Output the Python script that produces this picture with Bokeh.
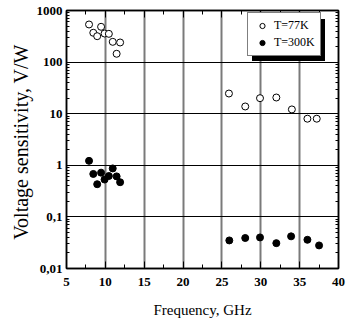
from bokeh.plotting import figure
from bokeh.models import (Range1d, FixedTicker, LinearAxis, LogAxis, Legend, LegendItem,
                          BoxAnnotation)
from bokeh.embed import file_html
from bokeh.resources import INLINE

# ---- data ----
freq_77 = [7.9, 8.45, 8.95, 9.45, 9.9, 10.45, 10.95, 11.45, 11.9,
           25.9, 28.0, 29.9, 32.0, 34.0, 36.0, 37.2]
sens_77 = [536, 370, 318, 483, 358, 353, 247, 145, 240,
           24.6, 13.8, 20.0, 20.6, 12.1, 8.0, 8.0]
freq_300 = [7.9, 8.45, 8.95, 9.45, 9.9, 10.45, 10.95, 11.45, 11.9,
            25.95, 28.0, 29.9, 32.0, 33.9, 36.0, 37.5]
sens_300 = [1.22, 0.68, 0.43, 0.72, 0.53, 0.62, 0.87, 0.61, 0.47,
            0.035, 0.039, 0.040, 0.031, 0.042, 0.036, 0.028]
series_labels = ["T=77K", "T=300K"]

x_ticks = [5, 10, 15, 20, 25, 30, 35, 40]
x_minor = [7.5, 12.5, 17.5, 22.5, 27.5, 32.5, 37.5]
y_ticks = [0.01, 0.1, 1, 10, 100, 1000]
y_tick_labels = ["0,01", "0,1", "1", "10", "100", "1000"]
y_minor = [m * 10.0 ** k for k in range(-2, 3) for m in range(2, 10)]
x_grid = [10, 15, 20, 25, 30, 35]
y_grid = [0.1, 1, 10, 100]

FONT = "Liberation Serif"

# layout of the plot frame (pixels)
FRAME_L, FRAME_T, FRAME_W, FRAME_H = 66, 10, 272, 258
X0, X1, YEXP0, YEXP1 = 5, 40, -2, 3


def px_to_x(px):
    return X0 + (px - FRAME_L) / FRAME_W * (X1 - X0)


def py_to_y(py):
    return 10 ** (YEXP1 - (py - FRAME_T) / FRAME_H * (YEXP1 - YEXP0))


p = figure(width=349, height=326, output_backend="svg", toolbar_location=None,
           x_range=Range1d(X0, X1), y_range=Range1d(10 ** YEXP0, 10 ** YEXP1),
           y_axis_type="log",
           min_border_left=FRAME_L, min_border_right=349 - FRAME_L - FRAME_W,
           min_border_top=FRAME_T, min_border_bottom=326 - FRAME_T - FRAME_H)
p.background_fill_color = "white"
p.border_fill_color = "white"
p.outline_line_color = "black"
p.outline_line_width = 1.5

# grids
p.xgrid.ticker = FixedTicker(ticks=x_grid)
p.xgrid.grid_line_color = "#7a7a7a"
p.xgrid.grid_line_width = 2
p.ygrid.ticker = FixedTicker(ticks=y_grid)
p.ygrid.grid_line_color = "black"
p.ygrid.grid_line_width = 1.2

# bottom axis
xa = p.xaxis[0]
xa.ticker = FixedTicker(ticks=x_ticks, minor_ticks=x_minor)
xa.major_tick_in = 7
xa.major_tick_out = 0
xa.minor_tick_in = 4
xa.minor_tick_out = 0
xa.axis_line_width = 1.5
xa.major_label_standoff = 9
xa.major_label_text_font = FONT
xa.major_label_text_font_style = "bold"
xa.major_label_text_font_size = "13px"
xa.major_label_text_color = "black"
xa.axis_label = "Frequency, GHz"
xa.axis_label_text_font = FONT
xa.axis_label_text_font_style = "normal"
xa.axis_label_text_font_size = "15px"
xa.axis_label_standoff = 13
xa.axis_label_text_color = "black"

# left axis
ya = p.yaxis[0]
ya.ticker = FixedTicker(ticks=y_ticks, minor_ticks=y_minor)
ya.major_label_overrides = {t: s for t, s in zip(y_ticks, y_tick_labels)}
ya.major_tick_in = 7
ya.major_tick_out = 0
ya.minor_tick_in = 3
ya.minor_tick_out = 0
ya.axis_line_width = 1.5
ya.major_label_standoff = 4
ya.major_label_text_font = FONT
ya.major_label_text_font_style = "bold"
ya.major_label_text_font_size = "13px"
ya.major_label_text_color = "black"
ya.axis_label = "Voltage sensitivity,  V/W"
ya.axis_label_text_font = FONT
ya.axis_label_text_font_style = "normal"
ya.axis_label_text_font_size = "20px"
ya.axis_label_standoff = 2
ya.axis_label_text_color = "black"

# top and right axes (ticks only)
top = LinearAxis(ticker=FixedTicker(ticks=x_ticks, minor_ticks=x_minor),
                 major_tick_in=7, major_tick_out=0, minor_tick_in=4, minor_tick_out=0,
                 major_label_overrides={t: "" for t in x_ticks},
                 major_label_standoff=0, axis_line_width=1.5)
p.add_layout(top, "above")
right = LogAxis(ticker=FixedTicker(ticks=y_ticks, minor_ticks=y_minor),
                major_tick_in=7, major_tick_out=0, minor_tick_in=3, minor_tick_out=0,
                major_label_overrides={t: "" for t in y_ticks},
                major_label_standoff=0, axis_line_width=1.5)
p.add_layout(right, "right")

# data
r77 = p.scatter(freq_77, sens_77, marker="circle", size=7, fill_color="white",
                line_color="black", line_width=1)
r300 = p.scatter(freq_300, sens_300, marker="circle", size=7, fill_color="black",
                 line_color="black", line_width=1)

# legend box geometry (canvas pixels) and its drop shadow
LEG_L, LEG_B, SHADOW = 247, 56, 4.5
LEG_W, LEG_H = 73, 42
shadow = BoxAnnotation(left=px_to_x(LEG_L + SHADOW), right=px_to_x(LEG_L + LEG_W + SHADOW),
                       top=py_to_y(LEG_B - LEG_H + SHADOW), bottom=py_to_y(LEG_B + SHADOW),
                       fill_color="black", fill_alpha=1, line_alpha=0)
p.add_layout(shadow)

legend = Legend(items=[LegendItem(label=series_labels[0], renderers=[r77]),
                       LegendItem(label=series_labels[1], renderers=[r300])],
                location=(LEG_L - FRAME_L, FRAME_T + FRAME_H - LEG_B),
                padding=5, spacing=2, margin=0,
                glyph_width=18, glyph_height=13, label_height=13,
                label_standoff=3, label_text_font=FONT, label_text_font_size="12px",
                label_text_color="black",
                border_line_color="black", border_line_width=1,
                background_fill_color="white", background_fill_alpha=1)
p.add_layout(legend, "center")

open("out.html", "w").write(file_html(p, INLINE))
